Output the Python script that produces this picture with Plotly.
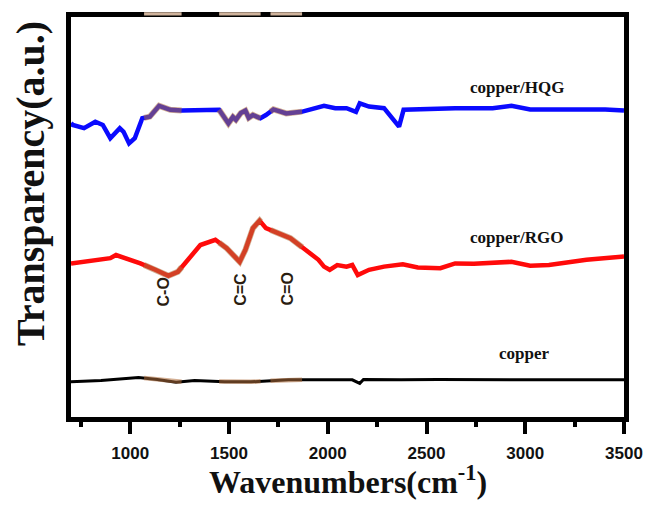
import numpy as np
import plotly.graph_objects as go

# ---- data (arbitrary units) ----
hqg_x = [700, 709, 766, 823, 861, 899, 947, 966, 994, 1023, 1061, 1099, 1146, 1203, 1260, 1374, 1450, 1497,
         1520, 1535, 1560, 1583, 1600, 1621, 1659, 1687, 1725, 1790, 1867, 1981, 2038, 2095, 2143, 2162, 2209,
         2285, 2323, 2361, 2384, 2645, 2835, 2930, 3025, 3405, 3500]
hqg_y = [73.5, 73.0, 72.2, 73.8, 73.0, 69.7, 72.2, 71.3, 68.4, 69.7, 74.7, 75.1, 77.8, 76.8, 76.6, 76.8, 76.8, 73.4,
         75.0, 74.3, 76.0, 76.6, 74.8, 75.5, 74.7, 75.5, 76.9, 75.9, 76.3, 77.8, 77.2, 77.2, 76.3, 78.4, 77.6,
         77.2, 75.1, 72.6, 76.8, 77.2, 77.2, 77.8, 76.9, 76.9, 76.6]

rgo_x = [700, 766, 842, 899, 928, 975, 1051, 1127, 1193, 1241, 1298, 1355, 1431, 1488, 1554, 1583, 1621, 1655,
         1687, 1754, 1811, 1887, 1953, 1981, 2010, 2048, 2095, 2124, 2152, 2209, 2285, 2380, 2456, 2570,
         2645, 2740, 2930, 3025, 3120, 3310, 3500]
rgo_y = [38.4, 38.8, 39.3, 39.7, 40.5, 39.7, 38.4, 36.8, 35.3, 36.3, 39.7, 43.0, 44.3, 42.2, 38.8, 41.8, 47.2, 49.1,
         47.2, 45.9, 44.7, 41.8, 39.3, 37.6, 36.8, 38.0, 37.6, 38.0, 35.5, 36.8, 37.6, 38.2, 37.4, 37.2,
         38.4, 38.3, 38.8, 37.8, 38.0, 39.3, 40.1]

cu_x = [700, 852, 1042, 1137, 1232, 1326, 1478, 1611, 1801, 1991, 2124, 2162, 2181, 2371, 2560, 2940, 3320, 3500]
cu_y = [8.8, 9.1, 9.9, 9.4, 8.7, 9.1, 8.8, 8.8, 9.3, 9.4, 9.3, 8.4, 9.4, 9.3, 9.4, 9.3, 9.4, 9.3]

# highlighted bands (cm-1)
bands = [(1070, 1260), (1450, 1660), (1710, 1870)]

# labels
series_labels = ["copper/HQG", "copper/RGO", "copper"]
label_x = [2956, 2956, 2996]
label_y = [82.5, 44.8, 15.8]

bond_labels = ["C-O", "C=C", "C=O"]
bond_x = [1169, 1555, 1796]
bond_y = [31.3, 32.0, 32.0]

tick_vals = [1000, 1500, 2000, 2500, 3000, 3500]
tick_text = [str(v) for v in tick_vals]
minor_vals = [750, 1250, 1750, 2250, 2750, 3250]

fig = go.Figure()

series = [(cu_x, cu_y, "#000000", 3), (rgo_x, rgo_y, "#ff0a0a", 4.5), (hqg_x, hqg_y, "#0a0aff", 4.5)]
for xs, ys, col, w in series:
    fig.add_trace(go.Scatter(x=xs, y=ys, mode="lines", line=dict(color=col, width=w), hoverinfo="skip"))

# semi-transparent brown overlays on the bands
for xs, ys, col, w in series:
    xa = np.array(xs, dtype=float)
    ya = np.array(ys, dtype=float)
    for a, b in bands:
        inner = xa[(xa > a) & (xa < b)]
        seg_x = np.concatenate([[a], inner, [b]])
        seg_y = np.interp(seg_x, xa, ya)
        fig.add_trace(go.Scatter(x=seg_x, y=seg_y, mode="lines",
                                 line=dict(color="rgba(175,110,60,0.55)", width=w + 1.5),
                                 hoverinfo="skip"))

for t, x, y in zip(series_labels, label_x, label_y):
    fig.add_annotation(x=x, y=y, text=t, showarrow=False,
                       font=dict(family="Liberation Serif", size=17, color="#111111", weight="bold"))

for t, x, y in zip(bond_labels, bond_x, bond_y):
    fig.add_annotation(x=x, y=y, text=t, showarrow=False, textangle=-90,
                       font=dict(family="Liberation Sans", size=16, color="#2a1d10", weight="bold"))

for a, b in bands:
    fig.add_shape(type="rect", xref="x", yref="paper", x0=a, x1=b, y0=1.004, y1=1.012,
                  fillcolor="#cfb39c", line=dict(width=0), layer="above")

fig.add_annotation(xref="paper", yref="paper", x=-0.074, y=0.5825, xanchor="center", yanchor="middle",
                   text="Transparency(a.u.)", showarrow=False, textangle=-90,
                   font=dict(family="Liberation Serif", size=40, color="#111111", weight="bold"))
fig.add_annotation(xref="paper", yref="paper", x=0.5, y=-0.158, xanchor="center", yanchor="middle",
                   text="Wavenumbers(cm<sup>-1</sup>)", showarrow=False,
                   font=dict(family="Liberation Serif", size=32, color="#111111", weight="bold"))

# the page body adds an 8px margin, so the figure is 16px smaller than the window
fig.update_layout(
    width=637, height=492,
    margin=dict(l=63, r=21, t=9, b=83),
    paper_bgcolor="white", plot_bgcolor="white",
    showlegend=False,
    xaxis=dict(range=[700, 3500], showgrid=False, zeroline=False, automargin=False,
               showline=True, linewidth=5, linecolor="black", mirror=True,
               ticks="outside", ticklen=12, tickwidth=4, tickcolor="black",
               tickvals=tick_vals, ticktext=tick_text, ticklabelstandoff=5,
               tickfont=dict(family="Liberation Sans", size=17, color="#111111", weight="bold"),
               minor=dict(ticks="outside", ticklen=5, tickwidth=4, tickcolor="black",
                          tickvals=minor_vals)),
    yaxis=dict(range=[0, 100], showgrid=False, zeroline=False, showticklabels=False, automargin=False,
               showline=True, linewidth=5, linecolor="black", mirror=True, ticks=""),
)

fig.write_html("out.html")
